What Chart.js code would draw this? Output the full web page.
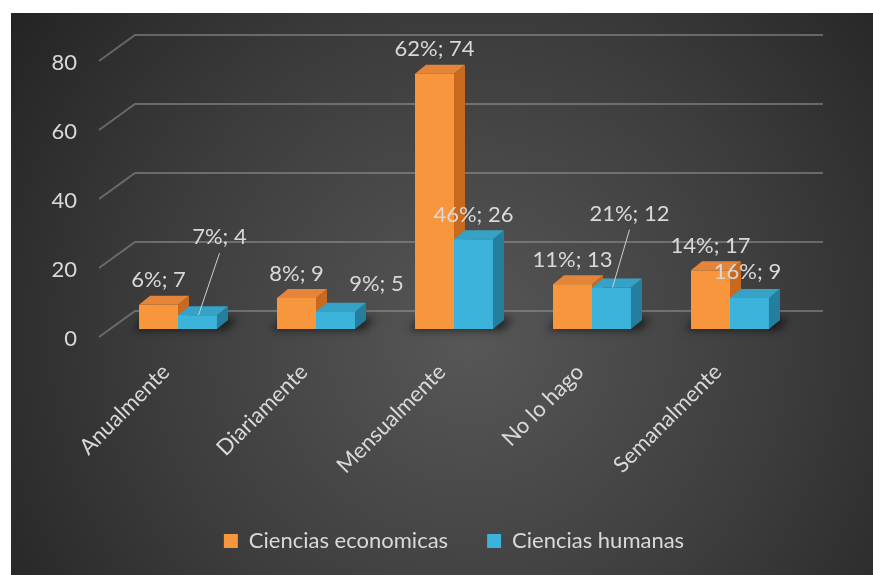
<!DOCTYPE html>
<html>
<head>
<meta charset="utf-8">
<script src="https://cdn.jsdelivr.net/npm/chart.js@4.4.1/dist/chart.umd.min.js"></script>
<style>
  html, body { margin: 0; padding: 0; background: #ffffff; }
  #c { display: block; }
</style>
</head>
<body>
<canvas id="c" width="873" height="575"></canvas>
<script>
// Survey answers per frequency, two faculties
const categories = ['Anualmente', 'Diariamente', 'Mensualmente', 'No lo hago', 'Semanalmente'];
const economicas = [7, 9, 74, 13, 17];
const humanas = [4, 5, 26, 12, 9];
const seriesNames = ['Ciencias economicas', 'Ciencias humanas'];
const yTickValues = [0, 20, 40, 60, 80];

// Styling / geometry (kept apart from the data)
const TEXT = '#d9d9d9';
const FONT = 'Lato, "Open Sans", sans-serif';
const FONT_SIZE = 22;
const faces = [
  { front: '#F7963C', top: '#E5853A', side: '#C9691F' },
  { front: '#3BB3DA', top: '#35A2C6', side: '#247F9E' }
];
const BAR_DX = 11, BAR_DY = -9;            // bar depth
const WALL = { fx: -10, fy: 8, bx: 26, by: -18, ext: 24 }; // floor/wall depth from the bar plane
// label nudges [dx, dy from bar top, leader line?] for labels moved off their bars
const labelNudge = {
  '1-0': [22, -78, true],
  '1-1': [41, -28, false],
  '1-3': [18, -74, true],
  '1-4': [-2, -26, false]
};

function pct(arr, i) {
  const total = arr.reduce((s, v) => s + v, 0);
  return Math.round(arr[i] / total * 100);
}

const panel = {
  id: 'panel',
  beforeDraw(chart) {
    const ctx = chart.ctx;
    ctx.save();
    const g = ctx.createRadialGradient(470, 340, 0, 470, 340, 580);
    g.addColorStop(0, '#575757');
    g.addColorStop(0.55, '#3c3c3c');
    g.addColorStop(1, '#222222');
    ctx.fillStyle = g;
    ctx.fillRect(11, 13, 862, 562);
    ctx.restore();
  }
};

function box(ctx, l, r, top, base, f) {
  // side face
  ctx.fillStyle = f.side;
  ctx.beginPath();
  ctx.moveTo(r, top); ctx.lineTo(r + BAR_DX, top + BAR_DY);
  ctx.lineTo(r + BAR_DX, base + BAR_DY); ctx.lineTo(r, base); ctx.closePath(); ctx.fill();
  // top face
  ctx.fillStyle = f.top;
  ctx.beginPath();
  ctx.moveTo(l, top); ctx.lineTo(r, top);
  ctx.lineTo(r + BAR_DX, top + BAR_DY); ctx.lineTo(l + BAR_DX, top + BAR_DY); ctx.closePath(); ctx.fill();
  // front face
  ctx.fillStyle = f.front;
  ctx.fillRect(l, top, r - l, base - top);
}

const bars3d = {
  id: 'bars3d',
  beforeDatasetsDraw(chart) {
    const { ctx, chartArea: a, scales: { y } } = chart;
    ctx.save();
    // walls: gridlines run from the front edge, back along the side wall and across the back wall
    ctx.strokeStyle = 'rgba(150,150,150,0.55)';
    ctx.lineWidth = 2;
    y.ticks.forEach(t => {
      const py = y.getPixelForValue(t.value);
      ctx.beginPath();
      ctx.moveTo(a.left + WALL.fx, py + WALL.fy);
      ctx.lineTo(a.left + WALL.bx, py + WALL.by);
      ctx.lineTo(a.right + WALL.ext, py + WALL.by);
      ctx.stroke();
    });
    const metas = [chart.getDatasetMeta(0), chart.getDatasetMeta(1)];
    // soft floor shadows under each cluster
    ctx.save();
    ctx.filter = 'blur(4px)';
    ctx.fillStyle = 'rgba(0,0,0,0.6)';
    categories.forEach((c, i) => {
      const e0 = metas[0].data[i], e1 = metas[1].data[i];
      const l = e0.x - e0.width / 2 - 6, r = e1.x + e1.width / 2 + BAR_DX + 9;
      const b = e0.base;
      ctx.beginPath();
      ctx.moveTo(l, b + 1); ctx.lineTo(r - BAR_DX, b + 1);
      ctx.lineTo(r, b + BAR_DY - 2); ctx.lineTo(l + BAR_DX, b + BAR_DY - 2);
      ctx.closePath(); ctx.fill();
    });
    ctx.restore();
    categories.forEach((c, i) => {
      metas.forEach((m, d) => {
        const el = m.data[i];
        box(ctx, el.x - el.width / 2, el.x + el.width / 2, el.y, el.base, faces[d]);
      });
    });
    ctx.restore();
    return false;
  },
  afterDraw(chart) {
    const { ctx } = chart;
    const series = [economicas, humanas];
    ctx.save();
    ctx.font = FONT_SIZE + 'px ' + FONT;
    ctx.fillStyle = TEXT;
    ctx.strokeStyle = '#cfcfcf';
    ctx.lineWidth = 1;
    ctx.textAlign = 'center';
    ctx.textBaseline = 'middle';
    series.forEach((arr, d) => {
      const meta = chart.getDatasetMeta(d);
      arr.forEach((v, i) => {
        const el = meta.data[i];
        const n = labelNudge[d + '-' + i] || [0, -24.5, false];
        const lx = el.x + n[0], ly = el.y + n[1];
        ctx.fillText(pct(arr, i) + '%; ' + v, lx, ly);
        if (n[2]) {
          ctx.beginPath();
          ctx.moveTo(lx, ly + 16);
          ctx.lineTo(el.x + 1, el.y);
          ctx.stroke();
        }
      });
    });
    ctx.restore();
  }
};

new Chart(document.getElementById('c'), {
  type: 'bar',
  data: {
    labels: categories,
    datasets: [
      { label: seriesNames[0], data: economicas, backgroundColor: faces[0].front, borderWidth: 0 },
      { label: seriesNames[1], data: humanas, backgroundColor: faces[1].front, borderWidth: 0 }
    ]
  },
  options: {
    responsive: false,
    animation: false,
    devicePixelRatio: 1,
    categoryPercentage: 0.565,
    barPercentage: 1.0,
    layout: { padding: { top: 53, left: 0, right: 74, bottom: 13 } },
    plugins: {
      tooltip: { enabled: false },
      legend: {
        position: 'bottom',
        fullSize: false,
        labels: {
          color: TEXT,
          font: { family: FONT, size: FONT_SIZE },
          boxWidth: 14,
          boxHeight: 14,
          padding: 39
        }
      }
    },
    scales: {
      x: {
        grid: { display: false, drawTicks: false },
        border: { display: false },
        ticks: {
          color: TEXT,
          font: { family: FONT, size: FONT_SIZE },
          minRotation: 45,
          maxRotation: 45,
          padding: 30,
          labelOffset: -12
        },
        afterFit(scale) { scale.height = 162; }
      },
      y: {
        min: 0,
        max: 80,
        grid: { display: false, drawTicks: false },
        border: { display: false },
        afterBuildTicks(scale) { scale.ticks = yTickValues.map(v => ({ value: v })); },
        ticks: {
          color: TEXT,
          font: { family: FONT, size: FONT_SIZE },
          padding: 32,
          labelOffset: 10
        },
        afterFit(scale) { scale.width = 109; }
      }
    }
  },
  plugins: [panel, bars3d]
});
</script>
</body>
</html>
